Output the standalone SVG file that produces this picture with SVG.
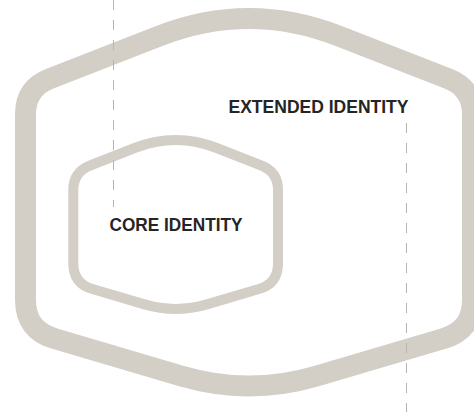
<svg xmlns="http://www.w3.org/2000/svg" width="474" height="412" viewBox="0 0 474 412">
  <style>
    .ring { fill: #ffffff; stroke: #d3cfc7; stroke-linejoin: round; }
    .label { font-family: "Liberation Sans", Arial, sans-serif; font-weight: bold; font-size: 18.5px; fill: #252525; }
    .guide { fill: none; stroke: #b9b4ac; stroke-width: 1; stroke-dasharray: 10 10; }
  </style>
  <rect width="474" height="412" fill="#ffffff"/>

  <g id="extended-identity">
    <!-- outer rounded hexagon -->
    <path class="ring" stroke-width="21" d="M159.3,36 Q249,1 338.7,36 L448.3,78.8 Q472.5,88.2 472.5,114.2 L472.5,300 Q472.5,330 443.7,338.5 L316.8,376 Q249,396 181.2,376 L54.3,338.5 Q25.5,330 25.5,300 L25.5,114.2 Q25.5,88.2 49.7,78.8 Z"/>
    <text class="label" x="228.5" y="113" textLength="180" lengthAdjust="spacingAndGlyphs">EXTENDED IDENTITY</text>
  </g>

  <g id="core-identity">
    <!-- inner rounded hexagon -->
    <path class="ring" stroke-width="10" d="M134.7,148 Q175.7,132 216.7,148 L261.3,165.5 Q278,172 278,190 L278,263.4 Q278,283.4 258.9,289 L206.9,304.4 Q175.7,313.6 144.5,304.4 L92.5,289 Q73.3,283.4 73.3,263.4 L73.3,190 Q73.3,172 90.1,165.5 Z"/>
    <text class="label" x="109.5" y="231" textLength="133" lengthAdjust="spacingAndGlyphs">CORE IDENTITY</text>
  </g>

  <g id="connectors">
    <line class="guide" x1="113.5" y1="0" x2="113.5" y2="207"/>
    <line class="guide" x1="406.5" y1="123" x2="406.5" y2="412"/>
  </g>
</svg>
